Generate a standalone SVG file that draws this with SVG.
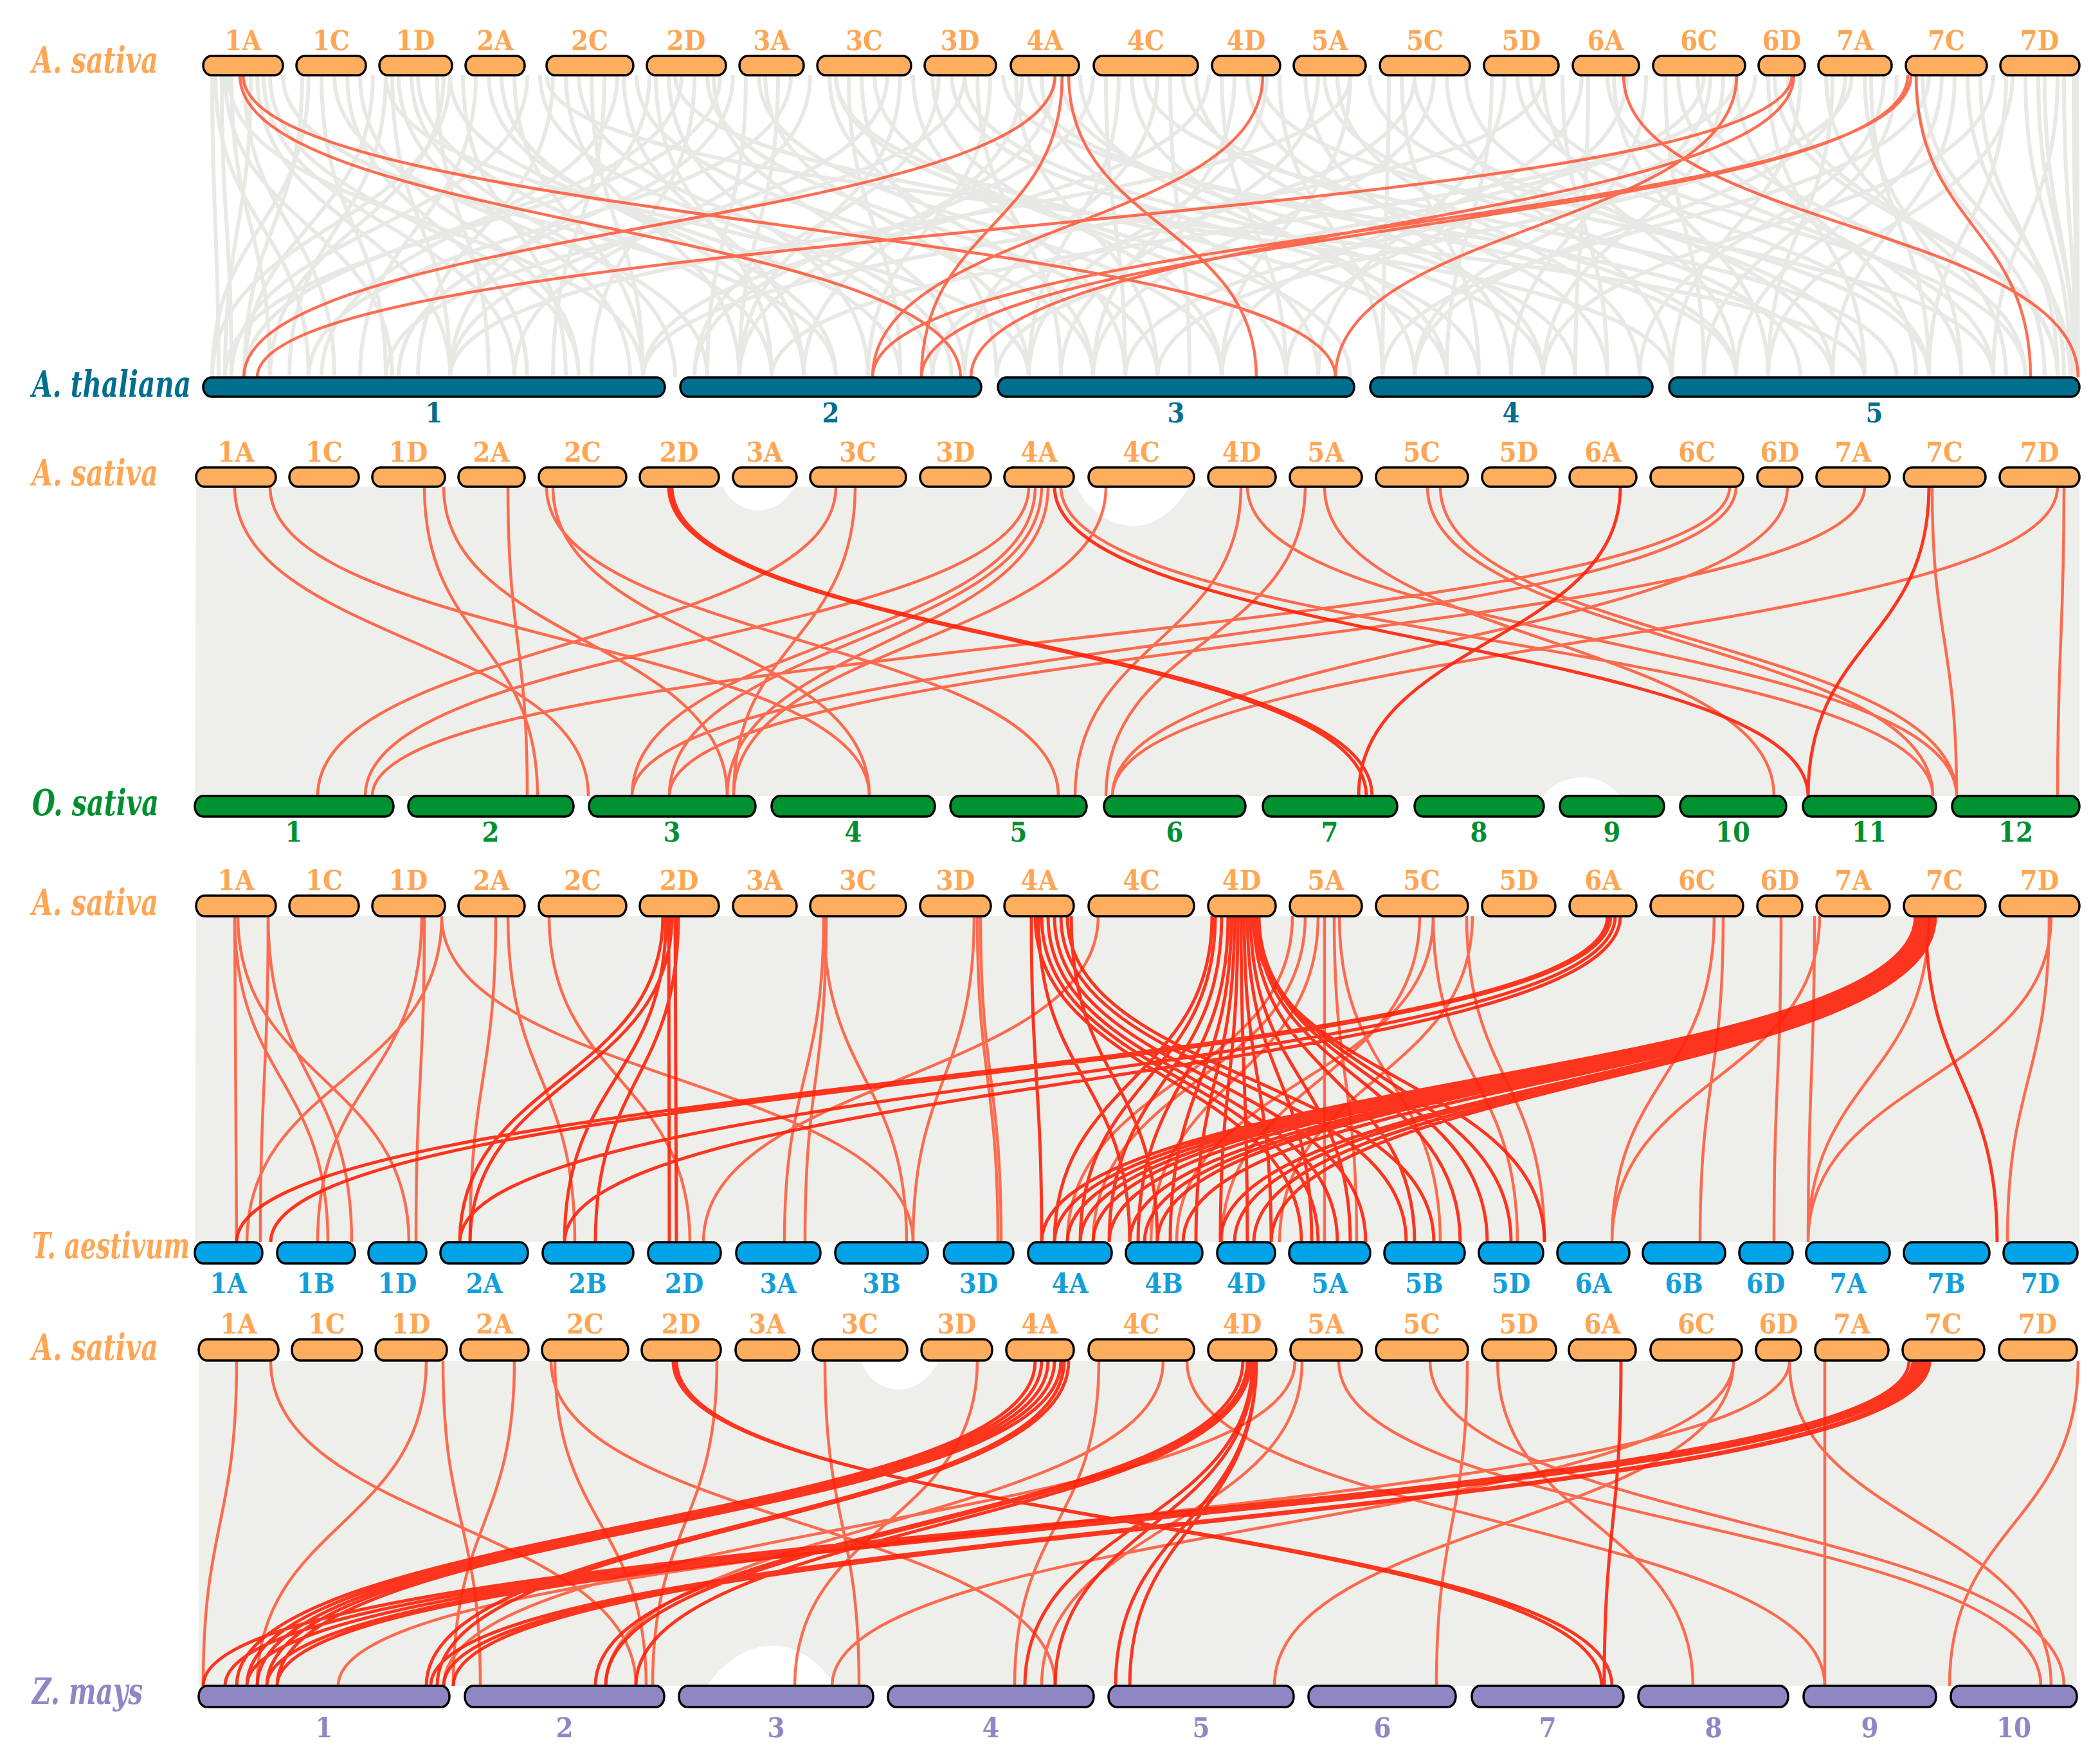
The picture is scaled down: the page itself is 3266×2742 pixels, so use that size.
<svg xmlns="http://www.w3.org/2000/svg" width="3266" height="2742" viewBox="0 0 3266 2742">
<style>
.bar{stroke:#000;stroke-width:3.5}
.as{fill:#FFAD5F}.at{fill:#006E8F}.os{fill:#009230}.ta{fill:#00A2E8}.zm{fill:#8F87C3}
.cl{font-family:"DejaVu Serif","Liberation Serif",serif;font-stretch:condensed;font-weight:bold;font-size:43px;text-anchor:middle}
.sp{font-family:"DejaVu Serif","Liberation Serif",serif;font-stretch:condensed;font-weight:bold;font-style:italic;font-size:56px}
.gray{fill:none;stroke:#E4E4E0;stroke-width:6;stroke-opacity:0.85}
.band{fill:#EEEEEA}
.red{fill:none;stroke:#FF4A28;stroke-width:4.5;stroke-opacity:0.8}
.red2{fill:none;stroke:#FF2008;stroke-width:5;stroke-opacity:0.9}
</style>
<rect width="3266" height="2742" fill="#fff"/>
<g id="connectors">
<path class="band" d="M305 757H3234V1238H303Z"/>
<path class="band" d="M305 1425H3234V1932H303Z"/>
<path class="band" d="M309 2117H3230V2622H309Z"/>
<path fill="#fff" d="M1675 757C1690 800 1780 870 1850 757Z M1125 757C1135 790 1200 820 1235 757Z M2400 1238C2420 1210 2480 1190 2520 1238Z M1100 2622C1140 2560 1230 2520 1300 2622Z M1340 2117C1350 2160 1420 2190 1460 2117Z"/>
<path class="gray" d="M330 117C330 352 340 352 340 587M345 117C345 352 360 352 360 587M360 117C360 352 420 352 420 587M380 117C380 352 520 352 520 587M400 117C400 352 700 352 700 587M420 117C420 352 900 352 900 587M470 117C470 352 380 352 380 587M500 117C500 352 600 352 600 587M520 117C520 352 1100 352 1100 587M540 117C540 352 820 352 820 587M600 117C600 352 450 352 450 587M620 117C620 352 980 352 980 587M650 117C650 352 1200 352 1200 587M680 117C680 352 760 352 760 587M700 117C700 352 1400 352 1400 587M740 117C740 352 560 352 560 587M760 117C760 352 1300 352 1300 587M800 117C800 352 1000 352 1000 587M860 117C860 352 650 352 650 587M880 117C880 352 1150 352 1150 587M900 117C900 352 1480 352 1480 587M940 117C940 352 860 352 860 587M970 117C970 352 1250 352 1250 587M1010 117C1010 352 700 352 700 587M1040 117C1040 352 1350 352 1350 587M1080 117C1080 352 920 352 920 587M1100 117C1100 352 1800 352 1800 587M1160 117C1160 352 1100 352 1100 587M1190 117C1190 352 1600 352 1600 587M1230 117C1230 352 480 352 480 587M1290 117C1290 352 1700 352 1700 587M1320 117C1320 352 1400 352 1400 587M1360 117C1360 352 2000 352 2000 587M1400 117C1400 352 1150 352 1150 587M1450 117C1450 352 1900 352 1900 587M1480 117C1480 352 2300 352 2300 587M1520 117C1520 352 1650 352 1650 587M1590 117C1590 352 1250 352 1250 587M1620 117C1620 352 2050 352 2050 587M1650 117C1650 352 2450 352 2450 587M1720 117C1720 352 1750 352 1750 587M1760 117C1760 352 2200 352 2200 587M1800 117C1800 352 1500 352 1500 587M1840 117C1840 352 2700 352 2700 587M1900 117C1900 352 2000 352 2000 587M1940 117C1940 352 2500 352 2500 587M1970 117C1970 352 1600 352 1600 587M2030 117C2030 352 2350 352 2350 587M2060 117C2060 352 2800 352 2800 587M2100 117C2100 352 1900 352 1900 587M2160 117C2160 352 2150 352 2150 587M2200 117C2200 352 2900 352 2900 587M2250 117C2250 352 2600 352 2600 587M2320 117C2320 352 2250 352 2250 587M2360 117C2360 352 3000 352 3000 587M2400 117C2400 352 2700 352 2700 587M2470 117C2470 352 2450 352 2450 587M2500 117C2500 352 3100 352 3100 587M2530 117C2530 352 2000 352 2000 587M2590 117C2590 352 2650 352 2650 587M2640 117C2640 352 3150 352 3150 587M2680 117C2680 352 2400 352 2400 587M2750 117C2750 352 2900 352 2900 587M2780 117C2780 352 3200 352 3200 587M2850 117C2850 352 2750 352 2750 587M2900 117C2900 352 3050 352 3050 587M2930 117C2930 352 2550 352 2550 587M2980 117C2980 352 3180 352 3180 587M3020 117C3020 352 2700 352 2700 587M3060 117C3060 352 3210 352 3210 587M3120 117C3120 352 3000 352 3000 587M3150 117C3150 352 3220 352 3220 587M3180 117C3180 352 3225 352 3225 587M3210 117C3210 352 3228 352 3228 587M3225 117C3225 352 3230 352 3230 587M700 117C700 352 330 352 330 587M1120 117C1120 352 350 352 350 587M1500 117C1500 352 600 352 600 587M1700 117C1700 352 1080 352 1080 587M2200 117C2200 352 1450 352 1450 587M2650 117C2650 352 1550 352 1550 587M3000 117C3000 352 2150 352 2150 587M1050 117C1050 352 2600 352 2600 587M850 117C850 352 2900 352 2900 587M2400 117C2400 352 1000 352 1000 587M2100 117C2100 352 700 352 700 587M2700 117C2700 352 1200 352 1200 587M1300 117C1300 352 2250 352 2250 587M1560 117C1560 352 2850 352 2850 587M1880 117C1880 352 1000 352 1000 587M2880 117C2880 352 1800 352 1800 587M3100 117C3100 352 2400 352 2400 587M600 117C600 352 1600 352 1600 587M335 117C335 352 480 352 480 587M350 117C350 352 610 352 610 587M355 117C355 352 1000 352 1000 587M390 117C390 352 350 352 350 587M410 117C410 352 800 352 800 587M440 117C440 352 1300 352 1300 587M480 117C480 352 330 352 330 587M560 117C560 352 900 352 900 587M580 117C580 352 380 352 380 587M610 117C610 352 700 352 700 587M640 117C640 352 1050 352 1050 587M690 117C690 352 420 352 420 587M720 117C720 352 880 352 880 587M780 117C780 352 1250 352 1250 587M820 117C820 352 360 352 360 587M840 117C840 352 1450 352 1450 587M920 117C920 352 1000 352 1000 587M960 117C960 352 500 352 500 587M990 117C990 352 1700 352 1700 587M1020 117C1020 352 1200 352 1200 587M1060 117C1060 352 380 352 380 587M1110 117C1110 352 1500 352 1500 587M1140 117C1140 352 620 352 620 587M1180 117C1180 352 1900 352 1900 587M1210 117C1210 352 1150 352 1150 587M1260 117C1260 352 800 352 800 587M1300 117C1300 352 2100 352 2100 587M1340 117C1340 352 1550 352 1550 587M1380 117C1380 352 700 352 700 587M1420 117C1420 352 1750 352 1750 587M1460 117C1460 352 1080 352 1080 587M1500 117C1500 352 2400 352 2400 587M1540 117C1540 352 1350 352 1350 587M1580 117C1580 352 1800 352 1800 587M1600 117C1600 352 2700 352 2700 587M1640 117C1640 352 1150 352 1150 587M1680 117C1680 352 2250 352 2250 587M1740 117C1740 352 1600 352 1600 587M1780 117C1780 352 2950 352 2950 587M1820 117C1820 352 1850 352 1850 587M1860 117C1860 352 2400 352 2400 587M1920 117C1920 352 1700 352 1700 587M1960 117C1960 352 3100 352 3100 587M1990 117C1990 352 2150 352 2150 587M2050 117C2050 352 1650 352 1650 587M2080 117C2080 352 2550 352 2550 587M2130 117C2130 352 3000 352 3000 587M2180 117C2180 352 2300 352 2300 587M2230 117C2230 352 1700 352 1700 587M2280 117C2280 352 2850 352 2850 587M2340 117C2340 352 2050 352 2050 587M2380 117C2380 352 3150 352 3150 587M2430 117C2430 352 2500 352 2500 587M2460 117C2460 352 1900 352 1900 587M2510 117C2510 352 2750 352 2750 587M2560 117C2560 352 2350 352 2350 587M2610 117C2610 352 3050 352 3050 587M2660 117C2660 352 2200 352 2200 587M2700 117C2700 352 2980 352 2980 587M2730 117C2730 352 1750 352 1750 587M2760 117C2760 352 3200 352 3200 587M2800 117C2800 352 2600 352 2600 587M2840 117C2840 352 3120 352 3120 587M2870 117C2870 352 2200 352 2200 587M2910 117C2910 352 3000 352 3000 587M2950 117C2950 352 2650 352 2650 587M2990 117C2990 352 3220 352 3220 587M3040 117C3040 352 2850 352 2850 587M3080 117C3080 352 3200 352 3200 587M3130 117C3130 352 2750 352 2750 587M3170 117C3170 352 3226 352 3226 587M3200 117C3200 352 3100 352 3100 587M3230 117C3230 352 3232 352 3232 587"/>
<path class="red" d="M373 117C373 352 1494 352 1494 587M378 117C378 352 2077 352 2077 587M1641 117C1641 352 379 352 379 587M1652 117C1652 352 1433 352 1433 587M1662 117C1662 352 1954 352 1954 587M1964 117C1964 352 1357 352 1357 587M2525 117C2525 352 3232 352 3232 587M2701 117C2701 352 2077 352 2077 587M2787 117C2787 352 400 352 400 587M2790 117C2790 352 1510 352 1510 587M2967 117C2967 352 1433 352 1433 587M2972 117C2972 352 1357 352 1357 587M2980 117C2980 352 3158 352 3158 587"/>
<path class="red" d="M365 757C365 997 915 997 915 1238M420 757C420 997 1352 997 1352 1238M660 757C660 997 836 997 836 1238M790 757C790 997 820 997 820 1238M690 757C690 997 1131 997 1131 1238M850 757C850 997 1646 997 1646 1238M860 757C860 997 1352 997 1352 1238M1300 757C1300 997 494 997 494 1238M1330 757C1330 997 1141 997 1141 1238M1600 757C1600 997 568 997 568 1238M1610 757C1610 997 983 997 983 1238M1620 757C1620 997 1041 997 1041 1238M1630 757C1630 997 1131 997 1131 1238M1650 757C1650 997 3006 997 3006 1238M1720 757C1720 997 1141 997 1141 1238M1930 757C1930 997 1672 997 1672 1238M1940 757C1940 997 3043 997 3043 1238M2030 757C2030 997 1720 997 1720 1238M2060 757C2060 997 2759 997 2759 1238M2220 757C2220 997 3006 997 3006 1238M2240 757C2240 997 3043 997 3043 1238M2690 757C2690 997 579 997 579 1238M2700 757C2700 997 983 997 983 1238M2780 757C2780 997 1730 997 1730 1238M2900 757C2900 997 1041 997 1041 1238M3005 757C3005 997 3043 997 3043 1238M3200 757C3200 997 1730 997 1730 1238M3210 757C3210 997 3200 997 3200 1238"/>
<path class="red2" d="M1040 757C1040 997 2125 997 2125 1238M1045 757C1045 997 2134 997 2134 1238M1640 757C1640 997 2812 997 2812 1238M2520 757C2520 997 2113 997 2113 1238M3000 757C3000 997 2812 997 2812 1238"/>
<path class="red" d="M365 1425C365 1678 368 1678 368 1932M365 1425C365 1678 510 1678 510 1932M370 1425C370 1678 636 1678 636 1932M417 1425C417 1678 405 1678 405 1932M417 1425C417 1678 547 1678 547 1932M656 1425C656 1678 494 1678 494 1932M660 1425C660 1678 647 1678 647 1932M687 1425C687 1678 384 1678 384 1932M687 1425C687 1678 1420 1678 1420 1932M771 1425C771 1678 731 1678 731 1932M790 1425C790 1678 894 1678 894 1932M854 1425C854 1678 1073 1678 1073 1932M1281 1425C1281 1678 1220 1678 1220 1932M1281 1425C1281 1678 1410 1678 1410 1932M1285 1425C1285 1678 1252 1678 1252 1932M1520 1425C1520 1678 1552 1678 1552 1932M1515 1425C1515 1678 1420 1678 1420 1932M1525 1425C1525 1678 1557 1678 1557 1932M1708 1425C1708 1678 1094 1678 1094 1932M2208 1425C2208 1678 1900 1678 1900 1932M2229 1425C2229 1678 2360 1678 2360 1932M2229 1425C2229 1678 1830 1678 1830 1932M2281 1425C2281 1678 2402 1678 2402 1932M2290 1425C2290 1678 1990 1678 1990 1932M2666 1425C2666 1678 2507 1678 2507 1932M2680 1425C2680 1678 2644 1678 2644 1932M2770 1425C2770 1678 2759 1678 2759 1932M2822 1425C2822 1678 2812 1678 2812 1932M2830 1425C2830 1678 2507 1678 2507 1932M3000 1425C3000 1678 2812 1678 2812 1932M3187 1425C3187 1678 3122 1678 3122 1932M3190 1425C3190 1678 2812 1678 2812 1932M2010 1425C2010 1678 1660 1678 1660 1932M2030 1425C2030 1678 1700 1678 1700 1932M2050 1425C2050 1678 1790 1678 1790 1932M2060 1425C2060 1678 2060 1678 2060 1932M2075 1425C2075 1678 2110 1678 2110 1932M2083 1425C2083 1678 2240 1678 2240 1932"/>
<path class="red2" d="M1031 1425C1031 1678 715 1678 715 1932M1036 1425C1036 1678 878 1678 878 1932M1040 1425C1040 1678 1041 1678 1041 1932M1045 1425C1045 1678 731 1678 731 1932M1050 1425C1050 1678 1052 1678 1052 1932M1055 1425C1055 1678 926 1678 926 1932M1604 1425C1604 1678 1620 1678 1620 1932M1610 1425C1610 1678 2024 1678 2024 1932M1620 1425C1620 1678 2050 1678 2050 1932M1630 1425C1630 1678 2080 1678 2080 1932M1640 1425C1640 1678 2124 1678 2124 1932M1650 1425C1650 1678 2187 1678 2187 1932M1660 1425C1660 1678 2230 1678 2230 1932M1615 1425C1615 1678 1757 1678 1757 1932M1666 1425C1666 1678 1800 1678 1800 1932M1885 1425C1885 1678 1640 1678 1640 1932M1890 1425C1890 1678 1680 1678 1680 1932M1900 1425C1900 1678 1725 1678 1725 1932M1910 1425C1910 1678 1770 1678 1770 1932M1915 1425C1915 1678 1820 1678 1820 1932M1920 1425C1920 1678 1860 1678 1860 1932M1925 1425C1925 1678 1898 1678 1898 1932M1930 1425C1930 1678 1940 1678 1940 1932M1935 1425C1935 1678 1977 1678 1977 1932M1940 1425C1940 1678 2040 1678 2040 1932M1945 1425C1945 1678 2100 1678 2100 1932M1950 1425C1950 1678 2200 1678 2200 1932M1955 1425C1955 1678 2271 1678 2271 1932M1958 1425C1958 1678 2313 1678 2313 1932M1958 1425C1958 1678 2350 1678 2350 1932M1950 1425C1950 1678 2402 1678 2402 1932M2500 1425C2500 1678 368 1678 368 1932M2505 1425C2505 1678 421 1678 421 1932M2512 1425C2512 1678 715 1678 715 1932M2520 1425C2520 1678 878 1678 878 1932M2979 1425C2979 1678 1620 1678 1620 1932M2982 1425C2982 1678 1640 1678 1640 1932M2985 1425C2985 1678 1660 1678 1660 1932M2988 1425C2988 1678 1680 1678 1680 1932M2991 1425C2991 1678 1700 1678 1700 1932M2994 1425C2994 1678 1725 1678 1725 1932M2997 1425C2997 1678 1757 1678 1757 1932M3000 1425C3000 1678 1780 1678 1780 1932M3003 1425C3003 1678 1800 1678 1800 1932M3006 1425C3006 1678 1840 1678 1840 1932M3008 1425C3008 1678 1898 1678 1898 1932M3010 1425C3010 1678 1920 1678 1920 1932M3010 1425C3010 1678 1950 1678 1950 1932M3010 1425C3010 1678 1977 1678 1977 1932M2995 1425C2995 1678 3106 1678 3106 1932"/>
<path class="red" d="M368 2117C368 2370 316 2370 316 2622M421 2117C421 2370 989 2370 989 2622M663 2117C663 2370 400 2370 400 2622M689 2117C689 2370 747 2370 747 2622M800 2117C800 2370 705 2370 705 2622M857 2117C857 2370 1641 2370 1641 2622M863 2117C863 2370 1005 2370 1005 2622M1115 2117C1115 2370 1015 2370 1015 2622M1283 2117C1283 2370 1336 2370 1336 2622M1520 2117C1520 2370 1236 2370 1236 2622M1709 2117C1709 2370 1578 2370 1578 2622M1809 2117C1809 2370 942 2370 942 2622M1846 2117C1846 2370 2838 2370 2838 2622M2014 2117C2014 2370 690 2370 690 2622M2025 2117C2025 2370 1620 2370 1620 2622M2082 2117C2082 2370 3174 2370 3174 2622M2224 2117C2224 2370 3210 2370 3210 2622M2282 2117C2282 2370 2234 2370 2234 2622M2329 2117C2329 2370 2633 2370 2633 2622M2696 2117C2696 2370 1982 2370 1982 2622M2783 2117C2783 2370 526 2370 526 2622M2838 2117C2838 2370 2838 2370 2838 2622M3232 2117C3232 2370 3032 2370 3032 2622M2783 2117C2783 2370 3190 2370 3190 2622M2696 2117C2696 2370 1294 2370 1294 2622"/>
<path class="red2" d="M1047 2117C1047 2370 2507 2370 2507 2622M1052 2117C1052 2370 2491 2370 2491 2622M2521 2117C2521 2370 2495 2370 2495 2622M1610 2117C1610 2370 368 2370 368 2622M1620 2117C1620 2370 384 2370 384 2622M1630 2117C1630 2370 400 2370 400 2622M1640 2117C1640 2370 415 2370 415 2622M1650 2117C1650 2370 431 2370 431 2622M1655 2117C1655 2370 663 2370 663 2622M1662 2117C1662 2370 680 2370 680 2622M1933 2117C1933 2370 926 2370 926 2622M1940 2117C1940 2370 942 2370 942 2622M1945 2117C1945 2370 989 2370 989 2622M1948 2117C1948 2370 1594 2370 1594 2622M1950 2117C1950 2370 1641 2370 1641 2622M1954 2117C1954 2370 1735 2370 1735 2622M1954 2117C1954 2370 1757 2370 1757 2622M2969 2117C2969 2370 316 2370 316 2622M2975 2117C2975 2370 350 2370 350 2622M2980 2117C2980 2370 384 2370 384 2622M2985 2117C2985 2370 415 2370 415 2622M2990 2117C2990 2370 431 2370 431 2622M2995 2117C2995 2370 670 2370 670 2622M3000 2117C3000 2370 690 2370 690 2622M3001 2117C3001 2370 705 2370 705 2622"/>
</g>
<g id="labels">
<text class="sp" x="50" y="113" fill="#FFA654" textLength="196" lengthAdjust="spacingAndGlyphs">A. sativa</text>
<text class="sp" x="50" y="617" fill="#006E8F" textLength="247" lengthAdjust="spacingAndGlyphs">A. thaliana</text>
<text class="sp" x="50" y="755" fill="#FFA654" textLength="196" lengthAdjust="spacingAndGlyphs">A. sativa</text>
<text class="sp" x="50" y="1268" fill="#008F30" textLength="197" lengthAdjust="spacingAndGlyphs">O. sativa</text>
<text class="sp" x="50" y="1423" fill="#FFA654" textLength="196" lengthAdjust="spacingAndGlyphs">A. sativa</text>
<text class="sp" x="50" y="1957" fill="#FFA654" font-size="52" textLength="245" lengthAdjust="spacingAndGlyphs">T. aestivum</text>
<text class="sp" x="50" y="2115" fill="#FFA654" textLength="196" lengthAdjust="spacingAndGlyphs">A. sativa</text>
<text class="sp" x="50" y="2650" fill="#8F87C3" textLength="172" lengthAdjust="spacingAndGlyphs">Z. mays</text>
</g>
<g id="row1" fill="#FFA654" class="cl">
<g id="r1-1A"><rect class="bar as" x="316" y="87" width="124" height="30" rx="13" ry="15"/><text x="378" y="78">1A</text></g>
<g id="r1-1C"><rect class="bar as" x="461" y="87" width="108" height="30" rx="13" ry="15"/><text x="515" y="78">1C</text></g>
<g id="r1-1D"><rect class="bar as" x="590" y="87" width="113" height="30" rx="13" ry="15"/><text x="646" y="78">1D</text></g>
<g id="r1-2A"><rect class="bar as" x="724" y="87" width="92" height="30" rx="13" ry="15"/><text x="770" y="78">2A</text></g>
<g id="r1-2C"><rect class="bar as" x="850" y="87" width="135" height="30" rx="13" ry="15"/><text x="917" y="78">2C</text></g>
<g id="r1-2D"><rect class="bar as" x="1006" y="87" width="123" height="30" rx="13" ry="15"/><text x="1067" y="78">2D</text></g>
<g id="r1-3A"><rect class="bar as" x="1150" y="87" width="100" height="30" rx="13" ry="15"/><text x="1200" y="78">3A</text></g>
<g id="r1-3C"><rect class="bar as" x="1271" y="87" width="146" height="30" rx="13" ry="15"/><text x="1344" y="78">3C</text></g>
<g id="r1-3D"><rect class="bar as" x="1438" y="87" width="111" height="30" rx="13" ry="15"/><text x="1493" y="78">3D</text></g>
<g id="r1-4A"><rect class="bar as" x="1572" y="87" width="106" height="30" rx="13" ry="15"/><text x="1625" y="78">4A</text></g>
<g id="r1-4C"><rect class="bar as" x="1701" y="87" width="162" height="30" rx="13" ry="15"/><text x="1782" y="78">4C</text></g>
<g id="r1-4D"><rect class="bar as" x="1885" y="87" width="106" height="30" rx="13" ry="15"/><text x="1938" y="78">4D</text></g>
<g id="r1-5A"><rect class="bar as" x="2012" y="87" width="112" height="30" rx="13" ry="15"/><text x="2068" y="78">5A</text></g>
<g id="r1-5C"><rect class="bar as" x="2146" y="87" width="140" height="30" rx="13" ry="15"/><text x="2216" y="78">5C</text></g>
<g id="r1-5D"><rect class="bar as" x="2308" y="87" width="116" height="30" rx="13" ry="15"/><text x="2366" y="78">5D</text></g>
<g id="r1-6A"><rect class="bar as" x="2446" y="87" width="103" height="30" rx="13" ry="15"/><text x="2497" y="78">6A</text></g>
<g id="r1-6C"><rect class="bar as" x="2571" y="87" width="143" height="30" rx="13" ry="15"/><text x="2642" y="78">6C</text></g>
<g id="r1-6D"><rect class="bar as" x="2735" y="87" width="72" height="30" rx="13" ry="15"/><text x="2771" y="78">6D</text></g>
<g id="r1-7A"><rect class="bar as" x="2828" y="87" width="114" height="30" rx="13" ry="15"/><text x="2885" y="78">7A</text></g>
<g id="r1-7C"><rect class="bar as" x="2964" y="87" width="126" height="30" rx="13" ry="15"/><text x="3027" y="78">7C</text></g>
<g id="r1-7D"><rect class="bar as" x="3111" y="87" width="123" height="30" rx="13" ry="15"/><text x="3172" y="78">7D</text></g>
</g>
<g id="thaliana" fill="#006E8F" class="cl">
<g id="at-1"><rect class="bar at" x="316" y="587" width="718" height="30" rx="13" ry="15"/><text x="675" y="657">1</text></g>
<g id="at-2"><rect class="bar at" x="1058" y="587" width="468" height="30" rx="13" ry="15"/><text x="1292" y="657">2</text></g>
<g id="at-3"><rect class="bar at" x="1552" y="587" width="554" height="30" rx="13" ry="15"/><text x="1829" y="657">3</text></g>
<g id="at-4"><rect class="bar at" x="2131" y="587" width="439" height="30" rx="13" ry="15"/><text x="2350" y="657">4</text></g>
<g id="at-5"><rect class="bar at" x="2596" y="587" width="638" height="30" rx="13" ry="15"/><text x="2915" y="657">5</text></g>
</g>
<g id="row2" fill="#FFA654" class="cl">
<g id="r2-1A"><rect class="bar as" x="305" y="727" width="124" height="30" rx="13" ry="15"/><text x="367" y="718">1A</text></g>
<g id="r2-1C"><rect class="bar as" x="450" y="727" width="108" height="30" rx="13" ry="15"/><text x="504" y="718">1C</text></g>
<g id="r2-1D"><rect class="bar as" x="579" y="727" width="113" height="30" rx="13" ry="15"/><text x="635" y="718">1D</text></g>
<g id="r2-2A"><rect class="bar as" x="713" y="727" width="103" height="30" rx="13" ry="15"/><text x="764" y="718">2A</text></g>
<g id="r2-2C"><rect class="bar as" x="838" y="727" width="136" height="30" rx="13" ry="15"/><text x="906" y="718">2C</text></g>
<g id="r2-2D"><rect class="bar as" x="995" y="727" width="123" height="30" rx="13" ry="15"/><text x="1056" y="718">2D</text></g>
<g id="r2-3A"><rect class="bar as" x="1140" y="727" width="99" height="30" rx="13" ry="15"/><text x="1189" y="718">3A</text></g>
<g id="r2-3C"><rect class="bar as" x="1260" y="727" width="149" height="30" rx="13" ry="15"/><text x="1334" y="718">3C</text></g>
<g id="r2-3D"><rect class="bar as" x="1431" y="727" width="110" height="30" rx="13" ry="15"/><text x="1486" y="718">3D</text></g>
<g id="r2-4A"><rect class="bar as" x="1562" y="727" width="108" height="30" rx="13" ry="15"/><text x="1616" y="718">4A</text></g>
<g id="r2-4C"><rect class="bar as" x="1693" y="727" width="164" height="30" rx="13" ry="15"/><text x="1775" y="718">4C</text></g>
<g id="r2-4D"><rect class="bar as" x="1879" y="727" width="105" height="30" rx="13" ry="15"/><text x="1931" y="718">4D</text></g>
<g id="r2-5A"><rect class="bar as" x="2006" y="727" width="112" height="30" rx="13" ry="15"/><text x="2062" y="718">5A</text></g>
<g id="r2-5C"><rect class="bar as" x="2140" y="727" width="143" height="30" rx="13" ry="15"/><text x="2211" y="718">5C</text></g>
<g id="r2-5D"><rect class="bar as" x="2305" y="727" width="114" height="30" rx="13" ry="15"/><text x="2362" y="718">5D</text></g>
<g id="r2-6A"><rect class="bar as" x="2441" y="727" width="104" height="30" rx="13" ry="15"/><text x="2493" y="718">6A</text></g>
<g id="r2-6C"><rect class="bar as" x="2567" y="727" width="144" height="30" rx="13" ry="15"/><text x="2639" y="718">6C</text></g>
<g id="r2-6D"><rect class="bar as" x="2733" y="727" width="70" height="30" rx="13" ry="15"/><text x="2768" y="718">6D</text></g>
<g id="r2-7A"><rect class="bar as" x="2825" y="727" width="114" height="30" rx="13" ry="15"/><text x="2882" y="718">7A</text></g>
<g id="r2-7C"><rect class="bar as" x="2961" y="727" width="127" height="30" rx="13" ry="15"/><text x="3024" y="718">7C</text></g>
<g id="r2-7D"><rect class="bar as" x="3110" y="727" width="124" height="30" rx="13" ry="15"/><text x="3172" y="718">7D</text></g>
</g>
<g id="osativa" fill="#008F30" class="cl">
<g id="os-1"><rect class="bar os" x="303" y="1238" width="309" height="32" rx="13" ry="16"/><text x="457" y="1309">1</text></g>
<g id="os-2"><rect class="bar os" x="635" y="1238" width="257" height="32" rx="13" ry="16"/><text x="763" y="1309">2</text></g>
<g id="os-3"><rect class="bar os" x="916" y="1238" width="259" height="32" rx="13" ry="16"/><text x="1045" y="1309">3</text></g>
<g id="os-4"><rect class="bar os" x="1200" y="1238" width="254" height="32" rx="13" ry="16"/><text x="1327" y="1309">4</text></g>
<g id="os-5"><rect class="bar os" x="1478" y="1238" width="212" height="32" rx="13" ry="16"/><text x="1584" y="1309">5</text></g>
<g id="os-6"><rect class="bar os" x="1717" y="1238" width="220" height="32" rx="13" ry="16"/><text x="1827" y="1309">6</text></g>
<g id="os-7"><rect class="bar os" x="1964" y="1238" width="209" height="32" rx="13" ry="16"/><text x="2068" y="1309">7</text></g>
<g id="os-8"><rect class="bar os" x="2200" y="1238" width="201" height="32" rx="13" ry="16"/><text x="2300" y="1309">8</text></g>
<g id="os-9"><rect class="bar os" x="2426" y="1238" width="162" height="32" rx="13" ry="16"/><text x="2507" y="1309">9</text></g>
<g id="os-10"><rect class="bar os" x="2613" y="1238" width="165" height="32" rx="13" ry="16"/><text x="2695" y="1309">10</text></g>
<g id="os-11"><rect class="bar os" x="2804" y="1238" width="207" height="32" rx="13" ry="16"/><text x="2907" y="1309">11</text></g>
<g id="os-12"><rect class="bar os" x="3036" y="1238" width="198" height="32" rx="13" ry="16"/><text x="3135" y="1309">12</text></g>
</g>
<g id="row3" fill="#FFA654" class="cl">
<g id="r3-1A"><rect class="bar as" x="305" y="1393" width="124" height="32" rx="13" ry="16"/><text x="367" y="1384">1A</text></g>
<g id="r3-1C"><rect class="bar as" x="450" y="1393" width="108" height="32" rx="13" ry="16"/><text x="504" y="1384">1C</text></g>
<g id="r3-1D"><rect class="bar as" x="579" y="1393" width="113" height="32" rx="13" ry="16"/><text x="635" y="1384">1D</text></g>
<g id="r3-2A"><rect class="bar as" x="713" y="1393" width="103" height="32" rx="13" ry="16"/><text x="764" y="1384">2A</text></g>
<g id="r3-2C"><rect class="bar as" x="838" y="1393" width="136" height="32" rx="13" ry="16"/><text x="906" y="1384">2C</text></g>
<g id="r3-2D"><rect class="bar as" x="995" y="1393" width="123" height="32" rx="13" ry="16"/><text x="1056" y="1384">2D</text></g>
<g id="r3-3A"><rect class="bar as" x="1140" y="1393" width="99" height="32" rx="13" ry="16"/><text x="1189" y="1384">3A</text></g>
<g id="r3-3C"><rect class="bar as" x="1260" y="1393" width="149" height="32" rx="13" ry="16"/><text x="1334" y="1384">3C</text></g>
<g id="r3-3D"><rect class="bar as" x="1431" y="1393" width="110" height="32" rx="13" ry="16"/><text x="1486" y="1384">3D</text></g>
<g id="r3-4A"><rect class="bar as" x="1562" y="1393" width="108" height="32" rx="13" ry="16"/><text x="1616" y="1384">4A</text></g>
<g id="r3-4C"><rect class="bar as" x="1693" y="1393" width="164" height="32" rx="13" ry="16"/><text x="1775" y="1384">4C</text></g>
<g id="r3-4D"><rect class="bar as" x="1879" y="1393" width="105" height="32" rx="13" ry="16"/><text x="1931" y="1384">4D</text></g>
<g id="r3-5A"><rect class="bar as" x="2006" y="1393" width="112" height="32" rx="13" ry="16"/><text x="2062" y="1384">5A</text></g>
<g id="r3-5C"><rect class="bar as" x="2140" y="1393" width="143" height="32" rx="13" ry="16"/><text x="2211" y="1384">5C</text></g>
<g id="r3-5D"><rect class="bar as" x="2305" y="1393" width="114" height="32" rx="13" ry="16"/><text x="2362" y="1384">5D</text></g>
<g id="r3-6A"><rect class="bar as" x="2441" y="1393" width="104" height="32" rx="13" ry="16"/><text x="2493" y="1384">6A</text></g>
<g id="r3-6C"><rect class="bar as" x="2567" y="1393" width="144" height="32" rx="13" ry="16"/><text x="2639" y="1384">6C</text></g>
<g id="r3-6D"><rect class="bar as" x="2733" y="1393" width="70" height="32" rx="13" ry="16"/><text x="2768" y="1384">6D</text></g>
<g id="r3-7A"><rect class="bar as" x="2825" y="1393" width="114" height="32" rx="13" ry="16"/><text x="2882" y="1384">7A</text></g>
<g id="r3-7C"><rect class="bar as" x="2961" y="1393" width="127" height="32" rx="13" ry="16"/><text x="3024" y="1384">7C</text></g>
<g id="r3-7D"><rect class="bar as" x="3110" y="1393" width="124" height="32" rx="13" ry="16"/><text x="3172" y="1384">7D</text></g>
</g>
<g id="taestivum" fill="#139FD9" class="cl">
<g id="ta-1A"><rect class="bar ta" x="303" y="1932" width="105" height="33" rx="13" ry="16"/><text x="355" y="2011">1A</text></g>
<g id="ta-1B"><rect class="bar ta" x="431" y="1932" width="121" height="33" rx="13" ry="16"/><text x="491" y="2011">1B</text></g>
<g id="ta-1D"><rect class="bar ta" x="573" y="1932" width="90" height="33" rx="13" ry="16"/><text x="618" y="2011">1D</text></g>
<g id="ta-2A"><rect class="bar ta" x="685" y="1932" width="136" height="33" rx="13" ry="16"/><text x="753" y="2011">2A</text></g>
<g id="ta-2B"><rect class="bar ta" x="844" y="1932" width="141" height="33" rx="13" ry="16"/><text x="914" y="2011">2B</text></g>
<g id="ta-2D"><rect class="bar ta" x="1008" y="1932" width="113" height="33" rx="13" ry="16"/><text x="1064" y="2011">2D</text></g>
<g id="ta-3A"><rect class="bar ta" x="1145" y="1932" width="131" height="33" rx="13" ry="16"/><text x="1210" y="2011">3A</text></g>
<g id="ta-3B"><rect class="bar ta" x="1299" y="1932" width="144" height="33" rx="13" ry="16"/><text x="1371" y="2011">3B</text></g>
<g id="ta-3D"><rect class="bar ta" x="1468" y="1932" width="108" height="33" rx="13" ry="16"/><text x="1522" y="2011">3D</text></g>
<g id="ta-4A"><rect class="bar ta" x="1599" y="1932" width="130" height="33" rx="13" ry="16"/><text x="1664" y="2011">4A</text></g>
<g id="ta-4B"><rect class="bar ta" x="1751" y="1932" width="119" height="33" rx="13" ry="16"/><text x="1810" y="2011">4B</text></g>
<g id="ta-4D"><rect class="bar ta" x="1893" y="1932" width="90" height="33" rx="13" ry="16"/><text x="1938" y="2011">4D</text></g>
<g id="ta-5A"><rect class="bar ta" x="2005" y="1932" width="126" height="33" rx="13" ry="16"/><text x="2068" y="2011">5A</text></g>
<g id="ta-5B"><rect class="bar ta" x="2153" y="1932" width="125" height="33" rx="13" ry="16"/><text x="2215" y="2011">5B</text></g>
<g id="ta-5D"><rect class="bar ta" x="2300" y="1932" width="100" height="33" rx="13" ry="16"/><text x="2350" y="2011">5D</text></g>
<g id="ta-6A"><rect class="bar ta" x="2422" y="1932" width="112" height="33" rx="13" ry="16"/><text x="2478" y="2011">6A</text></g>
<g id="ta-6B"><rect class="bar ta" x="2555" y="1932" width="128" height="33" rx="13" ry="16"/><text x="2619" y="2011">6B</text></g>
<g id="ta-6D"><rect class="bar ta" x="2705" y="1932" width="83" height="33" rx="13" ry="16"/><text x="2746" y="2011">6D</text></g>
<g id="ta-7A"><rect class="bar ta" x="2809" y="1932" width="130" height="33" rx="13" ry="16"/><text x="2874" y="2011">7A</text></g>
<g id="ta-7B"><rect class="bar ta" x="2961" y="1932" width="133" height="33" rx="13" ry="16"/><text x="3027" y="2011">7B</text></g>
<g id="ta-7D"><rect class="bar ta" x="3116" y="1932" width="115" height="33" rx="13" ry="16"/><text x="3173" y="2011">7D</text></g>
</g>
<g id="row5" fill="#FFA654" class="cl">
<g id="r5-1A"><rect class="bar as" x="309" y="2083" width="124" height="33" rx="13" ry="16"/><text x="371" y="2074">1A</text></g>
<g id="r5-1C"><rect class="bar as" x="454" y="2083" width="109" height="33" rx="13" ry="16"/><text x="508" y="2074">1C</text></g>
<g id="r5-1D"><rect class="bar as" x="584" y="2083" width="111" height="33" rx="13" ry="16"/><text x="639" y="2074">1D</text></g>
<g id="r5-2A"><rect class="bar as" x="716" y="2083" width="106" height="33" rx="13" ry="16"/><text x="769" y="2074">2A</text></g>
<g id="r5-2C"><rect class="bar as" x="843" y="2083" width="134" height="33" rx="13" ry="16"/><text x="910" y="2074">2C</text></g>
<g id="r5-2D"><rect class="bar as" x="998" y="2083" width="123" height="33" rx="13" ry="16"/><text x="1059" y="2074">2D</text></g>
<g id="r5-3A"><rect class="bar as" x="1144" y="2083" width="99" height="33" rx="13" ry="16"/><text x="1193" y="2074">3A</text></g>
<g id="r5-3C"><rect class="bar as" x="1264" y="2083" width="147" height="33" rx="13" ry="16"/><text x="1337" y="2074">3C</text></g>
<g id="r5-3D"><rect class="bar as" x="1433" y="2083" width="110" height="33" rx="13" ry="16"/><text x="1488" y="2074">3D</text></g>
<g id="r5-4A"><rect class="bar as" x="1565" y="2083" width="105" height="33" rx="13" ry="16"/><text x="1617" y="2074">4A</text></g>
<g id="r5-4C"><rect class="bar as" x="1693" y="2083" width="164" height="33" rx="13" ry="16"/><text x="1775" y="2074">4C</text></g>
<g id="r5-4D"><rect class="bar as" x="1879" y="2083" width="106" height="33" rx="13" ry="16"/><text x="1932" y="2074">4D</text></g>
<g id="r5-5A"><rect class="bar as" x="2007" y="2083" width="111" height="33" rx="13" ry="16"/><text x="2062" y="2074">5A</text></g>
<g id="r5-5C"><rect class="bar as" x="2140" y="2083" width="143" height="33" rx="13" ry="16"/><text x="2211" y="2074">5C</text></g>
<g id="r5-5D"><rect class="bar as" x="2305" y="2083" width="115" height="33" rx="13" ry="16"/><text x="2362" y="2074">5D</text></g>
<g id="r5-6A"><rect class="bar as" x="2440" y="2083" width="104" height="33" rx="13" ry="16"/><text x="2492" y="2074">6A</text></g>
<g id="r5-6C"><rect class="bar as" x="2567" y="2083" width="142" height="33" rx="13" ry="16"/><text x="2638" y="2074">6C</text></g>
<g id="r5-6D"><rect class="bar as" x="2731" y="2083" width="70" height="33" rx="13" ry="16"/><text x="2766" y="2074">6D</text></g>
<g id="r5-7A"><rect class="bar as" x="2823" y="2083" width="114" height="33" rx="13" ry="16"/><text x="2880" y="2074">7A</text></g>
<g id="r5-7C"><rect class="bar as" x="2959" y="2083" width="127" height="33" rx="13" ry="16"/><text x="3022" y="2074">7C</text></g>
<g id="r5-7D"><rect class="bar as" x="3109" y="2083" width="121" height="33" rx="13" ry="16"/><text x="3169" y="2074">7D</text></g>
</g>
<g id="zmays" fill="#8F87C3" class="cl">
<g id="zm-1"><rect class="bar zm" x="309" y="2622" width="390" height="33" rx="13" ry="16"/><text x="504" y="2702">1</text></g>
<g id="zm-2"><rect class="bar zm" x="723" y="2622" width="310" height="33" rx="13" ry="16"/><text x="878" y="2702">2</text></g>
<g id="zm-3"><rect class="bar zm" x="1056" y="2622" width="302" height="33" rx="13" ry="16"/><text x="1207" y="2702">3</text></g>
<g id="zm-4"><rect class="bar zm" x="1381" y="2622" width="320" height="33" rx="13" ry="16"/><text x="1541" y="2702">4</text></g>
<g id="zm-5"><rect class="bar zm" x="1724" y="2622" width="288" height="33" rx="13" ry="16"/><text x="1868" y="2702">5</text></g>
<g id="zm-6"><rect class="bar zm" x="2035" y="2622" width="229" height="33" rx="13" ry="16"/><text x="2150" y="2702">6</text></g>
<g id="zm-7"><rect class="bar zm" x="2289" y="2622" width="236" height="33" rx="13" ry="16"/><text x="2407" y="2702">7</text></g>
<g id="zm-8"><rect class="bar zm" x="2548" y="2622" width="233" height="33" rx="13" ry="16"/><text x="2665" y="2702">8</text></g>
<g id="zm-9"><rect class="bar zm" x="2805" y="2622" width="206" height="33" rx="13" ry="16"/><text x="2908" y="2702">9</text></g>
<g id="zm-10"><rect class="bar zm" x="3034" y="2622" width="196" height="33" rx="13" ry="16"/><text x="3132" y="2702">10</text></g>
</g>
</svg>
